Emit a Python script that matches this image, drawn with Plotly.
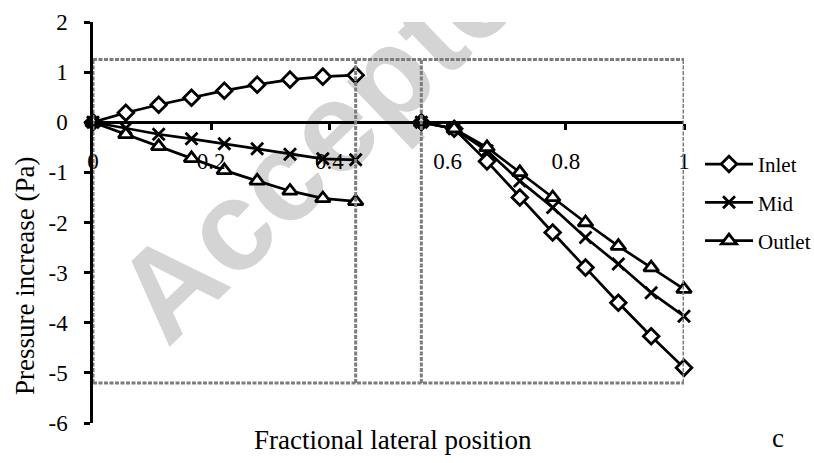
import plotly.graph_objects as go

# Lateral positions: two measurement zones separated by a gap
x_left = [0, 1/18, 2/18, 3/18, 4/18, 5/18, 6/18, 7/18, 8/18]
x_right = [10/18, 11/18, 12/18, 13/18, 14/18, 15/18, 16/18, 17/18, 1.0]

# Pressure increase (Pa) along each cross-section
inlet_left = [0, 0.19, 0.35, 0.49, 0.63, 0.75, 0.85, 0.91, 0.94]
inlet_right = [0, -0.13, -0.78, -1.50, -2.20, -2.90, -3.60, -4.27, -4.90]
mid_left = [0, -0.12, -0.24, -0.33, -0.43, -0.53, -0.64, -0.73, -0.75]
mid_right = [0, -0.13, -0.57, -1.17, -1.70, -2.30, -2.83, -3.40, -3.87]
outlet_left = [0, -0.24, -0.48, -0.72, -0.96, -1.17, -1.37, -1.52, -1.58]
outlet_right = [0, -0.13, -0.50, -1.00, -1.50, -2.00, -2.47, -2.90, -3.33]

series_names = ["Inlet", "Mid", "Outlet"]
x_ticks = [0, 0.2, 0.4, 0.6, 0.8, 1]
x_tick_text = ["0", "0.2", "0.4", "0.6", "0.8", "1"]
y_ticks = [-6, -5, -4, -3, -2, -1, 0, 1, 2]
y_tick_text = ["-6", "-5", "-4", "-3", "-2", "-1", "0", "1", "2"]

# Dashed outline around the two zones (data units)
zone_left = (0, 8/18)
zone_right = (10/18, 1.0)
zone_y = (-5.2, 1.25)

SERIF = "Liberation Serif, Times New Roman, serif"

fig = go.Figure()

styles = [
    dict(symbol="diamond", size=12, color="white"),
    dict(symbol="x-thin", size=12, color="black"),
    dict(symbol="triangle-up", size=13, color="white"),
]
data_pairs = [(inlet_left, inlet_right), (mid_left, mid_right), (outlet_left, outlet_right)]

for name, (yl, yr), st in zip(series_names, data_pairs, styles):
    fig.add_trace(go.Scatter(
        x=x_left + [None] + x_right,
        y=yl + [None] + yr,
        name=name,
        legendgroup=name,
        mode="lines+markers",
        connectgaps=False,
        cliponaxis=False,
        line=dict(color="black", width=2.7),
        marker=dict(symbol=st["symbol"], size=st["size"], color=st["color"],
                    line=dict(color="black", width=2.8)),
    ))

# Grey dashed zone outlines
dash_style = dict(color="#7c7c7c", width=3, dash="4px,1.5px")
shapes = [
    dict(type="line", xref="x", yref="y", x0=zone_left[0], x1=zone_right[1],
         y0=zone_y[1], y1=zone_y[1], line=dash_style),
    dict(type="line", xref="x", yref="y", x0=zone_left[0], x1=zone_right[1],
         y0=zone_y[0], y1=zone_y[0], line=dash_style),
]
for xv in (zone_left[0], zone_left[1], zone_right[0], zone_right[1]):
    shapes.append(dict(type="line", xref="x", yref="y", x0=xv, x1=xv,
                       y0=zone_y[0], y1=zone_y[1], line=dash_style))

# Diagonal "Accepted" stamp behind the data
shapes.append(dict(
    type="rect", xref="x", yref="y", x0=0.31, x1=0.51, y0=0.08, y1=0.48,
    line=dict(width=0), fillcolor="rgba(0,0,0,0)", layer="below",
    label=dict(text="<b>Accepted</b>", textangle=-44, textposition="middle center",
               font=dict(family="Liberation Sans, Arial, sans-serif", size=128,
                         color="#d4d4d4")),
))

fig.update_layout(
    width=814, height=463,
    margin=dict(l=93, r=130, t=22, b=40, autoexpand=False),
    paper_bgcolor="white", plot_bgcolor="white",
    font=dict(family=SERIF, color="black", size=23),
    shapes=shapes,
    showlegend=True,
    legend=dict(x=(700 - 93) / 591, y=0.696, xanchor="left", yanchor="top",
                font=dict(family=SERIF, size=21), tracegroupgap=8,
                bgcolor="rgba(0,0,0,0)", itemwidth=48, borderwidth=0),
    xaxis=dict(range=[0, 1], anchor="free", position=0.75,
               showline=True, linecolor="black", linewidth=2.5,
               ticks="outside", ticklen=6, tickwidth=2.5, tickcolor="black",
               tickvals=x_ticks, ticktext=x_tick_text, ticklabelstandoff=11,
               showgrid=False, zeroline=False,
               tickfont=dict(family=SERIF, size=23)),
    yaxis=dict(range=[-6, 2], showline=True, linecolor="black", linewidth=2.5,
               ticks="outside", ticklen=6, tickwidth=2.5, tickcolor="black",
               tickvals=y_ticks, ticktext=y_tick_text, ticklabelstandoff=12,
               showgrid=False, zeroline=False,
               tickfont=dict(family=SERIF, size=23)),
    annotations=[
        dict(text="Fractional lateral position", xref="paper", yref="paper",
             x=(393 - 93) / 591, y=-(440 - 423) / 401, xanchor="center", yanchor="middle",
             showarrow=False, font=dict(family=SERIF, size=27)),
        dict(text="Pressure increase (Pa)", xref="paper", yref="paper",
             x=-(93 - 25) / 591, y=(423 - 276) / 401, xanchor="center", yanchor="middle",
             textangle=-90, showarrow=False, font=dict(family=SERIF, size=27)),
        dict(text="c", xref="paper", yref="paper",
             x=(778 - 93) / 591, y=-(438 - 423) / 401, xanchor="center", yanchor="middle",
             showarrow=False, font=dict(family=SERIF, size=27)),
    ],
)

fig.write_html("out.html")
